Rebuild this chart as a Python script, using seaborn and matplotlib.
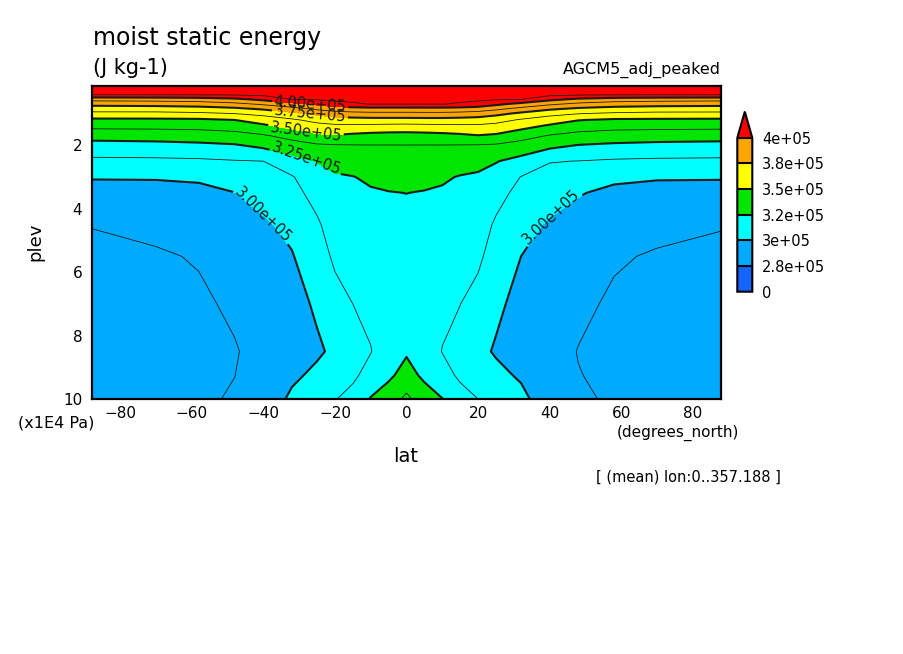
import numpy as np
import matplotlib
matplotlib.use("Agg")
import matplotlib.pyplot as plt
from matplotlib.colors import ListedColormap, BoundaryNorm
from matplotlib.ticker import MultipleLocator
import seaborn as sns

# grid: latitude (degrees_north) and pressure levels (x1E4 Pa)
lats = [-87.86, -70, -58, -48, -40, -32, -25, -20, -15, -10, -5, 0,
        5, 10, 15, 20, 25, 32, 40, 48, 58, 70, 87.86]
plevs = [0.13, 0.4, 0.55, 0.7, 0.85, 1.0, 1.2, 1.4, 1.7, 2.0, 2.5, 3.0,
         3.5, 4.5, 5.5, 7.0, 8.5, 9.25, 10.0]

# zonal mean moist static energy (kJ/kg), one profile per latitude, top -> surface
mse_88s = [420, 413.0, 391.7, 378.6, 368.5, 359.0, 347.5, 340.4, 329.4, 320.8, 309.8, 300.7, 296.2, 287.8, 285.5, 284.0, 283.0, 282.5, 282.0]
mse_70s = [420, 413.2, 392.5, 379.5, 368.8, 359.0, 347.6, 340.6, 330.2, 321.4, 310.1, 300.7, 296.9, 290.2, 286.3, 284.8, 284.2, 283.8, 283.5]
mse_58s = [420, 413.5, 393.8, 380.8, 370.0, 360.3, 347.9, 341.0, 331.3, 322.5, 310.6, 301.1, 298.1, 293.8, 288.3, 285.8, 285.2, 285.3, 285.8]
mse_48s = [421, 414.0, 397.3, 384.2, 372.4, 362.5, 350.0, 342.9, 332.9, 324.0, 311.8, 305.6, 299.8, 296.7, 293.5, 289.2, 286.8, 287.4, 288.5]
mse_40s = [422, 415.5, 402.9, 389.3, 376.7, 366.0, 355.8, 347.3, 336.1, 327.8, 312.5, 308.2, 303.9, 298.4, 295.5, 292.5, 291.0, 292.5, 295.0]
mse_32s = [423, 416.5, 412.5, 395.8, 383.3, 371.9, 360.7, 353.6, 341.7, 332.5, 320.5, 311.6, 308.7, 302.9, 299.3, 297.0, 296.5, 298.5, 301.5]
mse_25s = [422, 416.8, 413.7, 402.5, 389.8, 378.1, 366.3, 358.2, 347.7, 335.8, 325.4, 320.9, 316.7, 310.8, 307.3, 301.2, 298.8, 301.7, 305.0]
mse_20s = [422, 417.3, 414.6, 408.3, 393.4, 382.0, 369.0, 359.7, 349.1, 336.7, 328.3, 323.9, 322.0, 318.2, 314.4, 308.5, 301.5, 306.0, 312.0]
mse_15s = [422, 417.4, 414.9, 411.1, 394.9, 383.6, 369.9, 359.6, 347.3, 337.0, 330.3, 324.7, 323.1, 320.0, 317.2, 312.5, 309.0, 310.5, 316.0]
mse_10s = [422, 417.5, 415.0, 412.8, 395.6, 384.4, 370.5, 359.2, 345.9, 337.2, 331.9, 326.6, 324.0, 321.0, 318.5, 315.0, 312.1, 316.5, 325.8]
mse_05s = [421, 417.0, 414.7, 412.8, 395.6, 384.4, 370.5, 358.6, 345.2, 337.2, 332.9, 328.5, 324.6, 321.5, 319.0, 317.2, 318.5, 322.5, 332.0]
mse_eq = [420, 416.4, 414.5, 412.8, 395.6, 384.4, 370.5, 358.3, 345.0, 337.3, 333.2, 329.1, 325.1, 321.5, 319.0, 318.0, 323.5, 330.0, 340.0]
mse_05n = [421, 417.0, 414.7, 412.8, 395.8, 384.6, 370.8, 358.8, 345.5, 337.2, 332.8, 328.3, 324.4, 321.3, 319.0, 317.3, 318.3, 322.3, 331.5]
mse_10n = [422, 417.5, 415.0, 412.8, 395.8, 384.6, 370.8, 359.5, 346.2, 337.2, 331.7, 326.3, 323.8, 320.8, 318.3, 314.8, 312.2, 316.2, 325.3]
mse_15n = [422, 417.4, 414.9, 411.3, 395.2, 383.8, 370.2, 359.8, 347.6, 337.0, 330.0, 324.4, 322.8, 319.8, 317.0, 312.6, 309.2, 310.8, 316.3]
mse_20n = [422, 417.3, 414.6, 408.5, 393.8, 382.3, 369.3, 360.0, 349.4, 336.8, 328.0, 323.6, 321.8, 318.0, 314.5, 308.8, 302.0, 306.3, 312.5]
mse_25n = [422, 416.8, 413.7, 402.8, 390.2, 378.5, 366.8, 358.6, 348.0, 336.0, 325.6, 320.6, 316.5, 310.9, 307.6, 301.6, 299.2, 302.0, 305.5]
mse_32n = [423, 416.5, 412.6, 396.2, 383.8, 372.4, 361.2, 354.0, 342.2, 333.0, 321.0, 312.2, 309.0, 303.5, 300.0, 297.5, 297.0, 299.0, 302.0]
mse_40n = [422, 415.6, 403.2, 389.6, 377.0, 366.4, 356.3, 347.8, 336.6, 328.2, 313.0, 308.8, 304.3, 298.8, 295.8, 292.8, 291.3, 292.8, 295.5]
mse_48n = [421, 414.2, 397.6, 384.6, 372.8, 362.9, 350.5, 343.3, 333.4, 324.6, 312.3, 306.2, 300.5, 297.0, 293.8, 289.6, 287.2, 287.8, 289.0]
mse_58n = [420, 413.6, 394.0, 381.2, 370.4, 360.6, 348.2, 341.3, 331.8, 323.0, 311.0, 301.5, 298.3, 294.0, 288.6, 286.0, 285.5, 285.6, 286.2]
mse_70n = [420, 413.3, 392.8, 379.8, 369.2, 359.4, 348.0, 341.0, 330.8, 322.0, 310.4, 300.8, 297.0, 290.4, 286.5, 285.0, 284.4, 284.0, 283.7]
mse_88n = [420, 413.1, 392.0, 379.0, 368.8, 359.3, 347.8, 340.8, 330.0, 321.4, 310.1, 300.8, 296.3, 288.0, 285.6, 284.2, 283.2, 282.7, 282.2]

fill_levels = [0, 275000, 300000, 325000, 350000, 375000, 400000]
fill_colors = ['#1464ff', '#00aaff', '#00ffff', '#00e600', '#ffff00', '#ffa500']
over_color = '#ff0000'
thick_levels = [300000, 325000, 350000, 375000, 400000]
thin_levels = [287500, 312500, 337500, 362500, 387500, 412500]

profiles = [mse_88s, mse_70s, mse_58s, mse_48s, mse_40s, mse_32s, mse_25s,
            mse_20s, mse_15s, mse_10s, mse_05s, mse_eq, mse_05n, mse_10n,
            mse_15n, mse_20n, mse_25n, mse_32n, mse_40n, mse_48n, mse_58n,
            mse_70n, mse_88n]
mse = np.column_stack(profiles) * 1000.0   # J kg-1

sns.set_theme(style="white", rc={
    "axes.edgecolor": "black", "text.color": "black",
    "xtick.color": "black", "ytick.color": "black",
    "axes.labelcolor": "black", "axes.unicode_minus": True,
})
plt.rcParams['font.family'] = ['DejaVu Sans']

fig = plt.figure(figsize=(9.04, 6.54), dpi=100)
W, H = 904.0, 654.0
ax = fig.add_axes([92 / W, 1 - 399 / H, 629 / W, 313 / H])

cmap = ListedColormap(fill_colors)
cmap.set_over(over_color)
norm = BoundaryNorm(fill_levels, cmap.N)
cf = ax.contourf(lats, plevs, mse, levels=fill_levels, cmap=cmap, norm=norm,
                 extend='max')

cs_thin = ax.contour(lats, plevs, mse, levels=thin_levels, colors='k',
                     linewidths=0.6)
cs_thick = ax.contour(lats, plevs, mse, levels=thick_levels, colors='k',
                      linewidths=1.5)

ax.set_xlim(-87.86, 87.86)
ax.set_ylim(10, 0.13)

# contour labels, placed like the original
label_spots = [(-27, 0.72), (-27, 1.02), (-28, 1.5), (-28, 2.45),
               (-40, 4.2), (40, 4.2)]
labels = ax.clabel(cs_thick, manual=label_spots, fmt='%.2e', inline=True,
                   inline_spacing=2, fontsize=10.5)
# the y axis runs downward: lines fall toward the equator in the south
# and rise out of it in the north, so set the label angles by hand
for t in labels:
    ang = abs(((t.get_rotation() + 90.0) % 180.0) - 90.0)
    t.set_transform_rotates_text(False)
    t.set_rotation(-ang if t.get_position()[0] < 0 else ang)

ax.set_xticks(range(-80, 81, 20))
ax.xaxis.set_minor_locator(MultipleLocator(5))
ax.set_yticks([2, 4, 6, 8, 10])
ax.yaxis.set_minor_locator(MultipleLocator(0.5))
ax.tick_params(which='both', direction='in', top=True, right=True,
               width=1.3, labelsize=11)
ax.tick_params(axis='x', which='major', length=6, pad=5)
ax.tick_params(axis='y', which='major', length=6, pad=7)
ax.tick_params(which='minor', length=3)
for sp in ax.spines.values():
    sp.set_linewidth(1.6)
    sp.set_color('black')
ax.set_xlabel('')
ax.set_ylabel('')

# colorbar on the right
cax = fig.add_axes([737.3 / W, 1 - 291.7 / H, 15 / W, 180 / H])
cb = fig.colorbar(cf, cax=cax, extend='max', extendfrac=0.17,
                  drawedges=True, spacing='uniform')
cb.set_ticks(fill_levels)
cb.set_ticklabels(['%.2g' % v for v in fill_levels])
cb.ax.tick_params(length=0, pad=7, labelsize=10.5)
cb.outline.set_linewidth(1.5)
cb.outline.set_edgecolor('black')
cb.dividers.set_linewidth(1.5)
cb.dividers.set_color('black')

# annotations
fig.text(93 / W, 1 - 38 / H, 'moist static energy', fontsize=17,
         ha='left', va='center')
fig.text(93 / W, 1 - 68 / H, '(J kg-1)', fontsize=15, ha='left', va='center')
fig.text(721 / W, 1 - 70 / H, 'AGCM5_adj_peaked', fontsize=11.5,
         ha='right', va='center')
fig.text(18 / W, 1 - 423 / H, '(x1E4 Pa)', fontsize=11.5, ha='left', va='center')
fig.text(617 / W, 1 - 433 / H, '(degrees_north)', fontsize=11,
         ha='left', va='center')
fig.text(406 / W, 1 - 457 / H, 'lat', fontsize=14, ha='center', va='center')
fig.text(35 / W, 1 - 242 / H, 'plev', fontsize=13, ha='center', va='center',
         rotation=90)
fig.text(596 / W, 1 - 477 / H, '[ (mean) lon:0..357.188 ]', fontsize=10.5,
         ha='left', va='center')

fig.savefig('out.png', dpi=100, facecolor='white')
